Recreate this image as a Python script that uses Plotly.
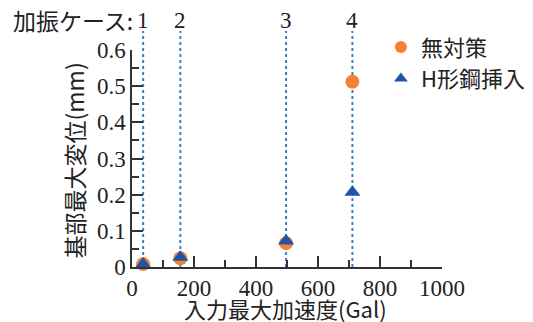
import plotly.graph_objects as go

# data
case_labels = ["1", "2", "3", "4"]
accel = [36, 156, 497, 711]           # 入力最大加速度 (Gal)
disp_none = [0.008, 0.024, 0.066, 0.512]   # 無対策
disp_h = [0.008, 0.027, 0.072, 0.207]      # H形鋼挿入
x_ticks = [0, 200, 400, 600, 800, 1000]
y_ticks = [0, 0.1, 0.2, 0.3, 0.4, 0.5, 0.6]
y_ticktext = ["0", "0.1", "0.2", "0.3", "0.4", "0.5", "0.6"]

SERIF = "Liberation Serif, Noto Sans CJK JP"
JP = "Noto Sans CJK JP, Liberation Serif"
TXT = "#222222"
AX = "#333333"
LINE_C = "#3f7cc2"

fig = go.Figure()
fig.add_trace(go.Scatter(x=accel, y=disp_none, mode="markers", name="無対策",
                         marker=dict(symbol="circle", size=14, color="#f58232"),
                         cliponaxis=False))
fig.add_trace(go.Scatter(x=accel, y=disp_h, mode="markers", name="H形鋼挿入",
                         marker=dict(symbol="triangle-up", size=14, color="#1f54a8"),
                         cliponaxis=False))

for xv, lab in zip(accel, case_labels):
    fig.add_shape(type="line", xref="x", yref="paper", x0=xv, x1=xv, y0=0, y1=1.088,
                  line=dict(color=LINE_C, width=2, dash="dot"), layer="below")
    fig.add_annotation(x=xv, xref="x", y=1.138, yref="paper", text=lab, showarrow=False,
                       xanchor="center", yanchor="middle",
                       font=dict(family=SERIF, size=23, color=TXT))
fig.add_annotation(x=accel[0], xref="x", xshift=-8, y=1.138, yref="paper", text="加振ケース:",
                   showarrow=False, xanchor="right", yanchor="middle",
                   font=dict(family=JP, size=23, color=TXT))

# axis titles
fig.add_annotation(x=0.495, xref="paper", y=-0.19, yref="paper", text="入力最大加速度(Gal)",
                   showarrow=False, xanchor="center", yanchor="middle",
                   font=dict(family=JP, size=22, color=TXT))
fig.add_annotation(x=-0.187, xref="paper", y=0.491, yref="paper", text="基部最大変位(mm)",
                   showarrow=False, xanchor="center", yanchor="middle", textangle=-90,
                   font=dict(family=JP, size=23, color=TXT))

axis_common = dict(showline=True, linecolor=AX, linewidth=1.5, ticks="inside",
                   tickcolor=AX, tickwidth=1.5, ticklen=11, showgrid=False,
                   zeroline=False, mirror=False, automargin=False,
                   tickfont=dict(family=SERIF, size=23, color=TXT))

fig.update_xaxes(range=[0, 1000], tickvals=x_ticks,
                 minor=dict(dtick=100, ticklen=7, tickcolor=AX, tickwidth=1.5, ticks="inside"),
                 **axis_common)
fig.update_yaxes(range=[0, 0.6], tickvals=y_ticks, ticktext=y_ticktext,
                 minor=dict(dtick=0.05, ticklen=7, tickcolor=AX, tickwidth=1.5, ticks="inside"),
                 **axis_common)

# page body has an 8px margin, so the figure is 8px smaller and shifted accordingly
fig.update_layout(width=525, height=314,
                  margin=dict(l=124, r=91, t=42, b=55, autoexpand=False),
                  paper_bgcolor="white", plot_bgcolor="white", showlegend=True,
                  legend=dict(x=0.803, y=1.11, xanchor="left", yanchor="top",
                              font=dict(family=JP, size=22, color=TXT),
                              bgcolor="rgba(0,0,0,0)", itemsizing="constant",
                              itemwidth=30, tracegroupgap=0))

fig.write_html("out.html")
